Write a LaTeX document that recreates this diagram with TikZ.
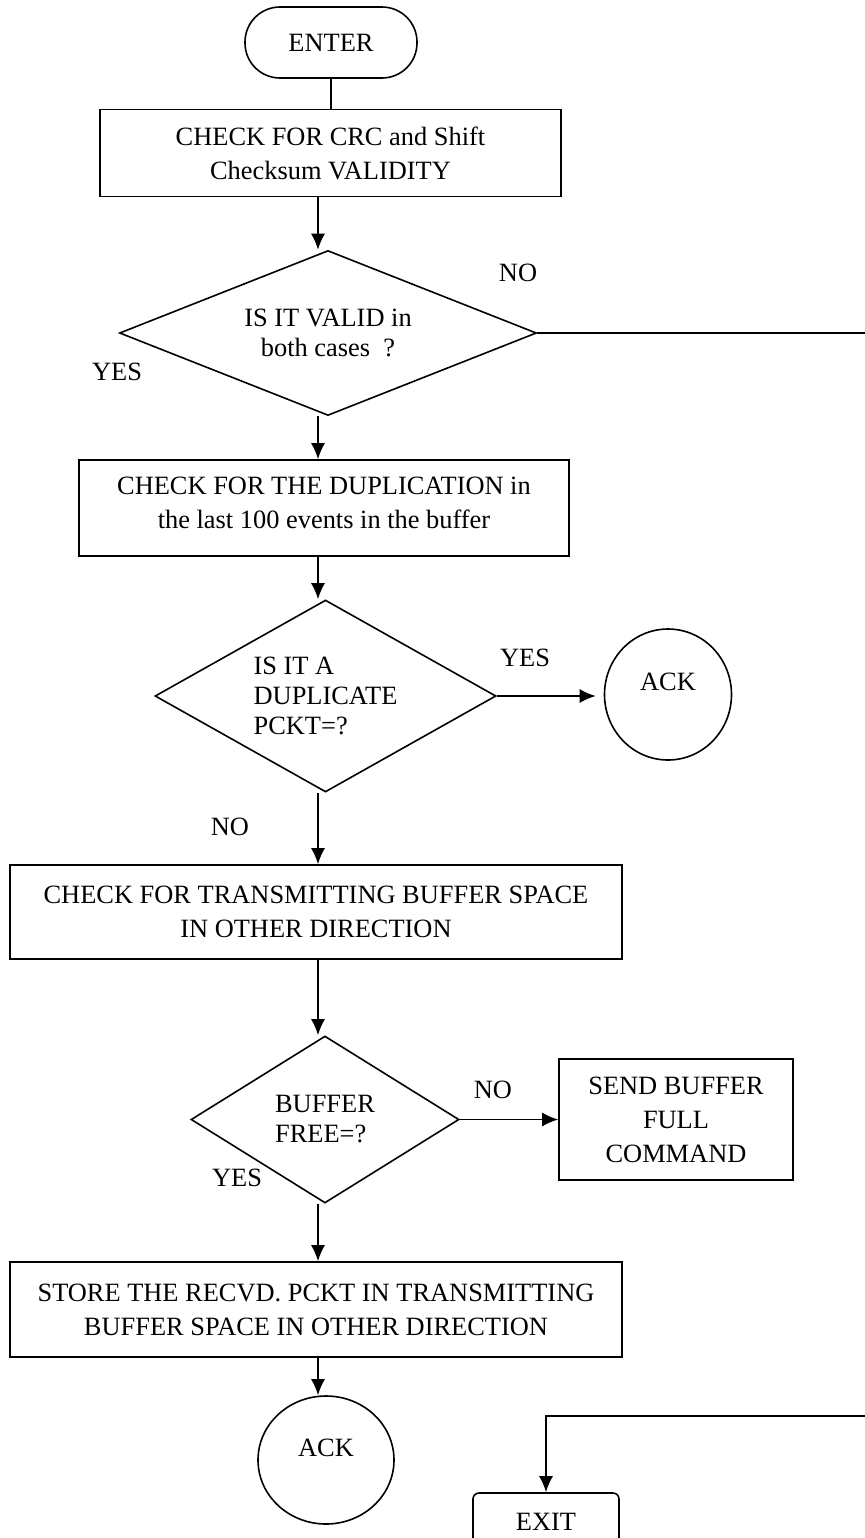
\documentclass[tikz,border=0pt]{standalone}
\usepackage{fontspec}
\setmainfont{Liberation Serif}
\usetikzlibrary{shapes.geometric, arrows.meta}

\begin{document}
\begin{tikzpicture}[> = {Latex[length = 8pt, width = 7pt]}, x = 0.5pt, y = -0.5pt, line width = 0.8pt,
	font = \fontsize{13.2}{17}\selectfont,
	term/.style = {draw, rounded corners = 17.5pt, minimum width = 86pt, minimum height = 35.5pt, inner sep = 0pt},
	proc/.style = {draw, align = center, inner sep = 0pt},
	dec/.style = {draw, diamond, inner sep = 0pt, font = \fontsize{13.2}{15}\selectfont},
	conn/.style = {draw, ellipse, inner sep = 0pt, text height = 9pt, text depth = 13pt},
	lbl/.style = {inner sep = 0pt}]

	% Definitions

	\def\X{318}		% x of the main line of arrows
	\def\E{900}		% x of the return line, off the page

	\useasboundingbox (0, 0) rectangle (864, 1538);
	\coordinate (spine) at (\X, 0);
	\coordinate (side) at (\E, 1416);

	% Boxes and decisions

	\node [term] (enter) at (331, 42.5) {ENTER};
	\node [proc, minimum width = 230.5pt, minimum height = 43.5pt] (chk) at (330.5, 153) {CHECK FOR CRC and Shift\\Checksum VALIDITY};
	\node [dec, align = center, aspect = 2.53, minimum width = 208.5pt, minimum height = 82.5pt] (valid) at (328, 333) {IS IT VALID in\\both cases\ \ ?};
	\node [proc, minimum width = 245pt, minimum height = 48pt, text depth = 5pt] (dup) at (324, 508) {CHECK FOR THE DUPLICATION in\\the last 100 events in the buffer};
	\node [dec, align = left, aspect = 1.78, minimum width = 170.5pt, minimum height = 96pt] (isdup) at (325.5, 696) {IS IT A\\DUPLICATE\\PCKT=?};
	\node [conn, minimum width = 63.5pt, minimum height = 65.5pt] (ack1) at (668, 694.5) {ACK};
	\node [proc, minimum width = 306pt, minimum height = 47pt] (space) at (316, 912) {CHECK FOR TRANSMITTING BUFFER SPACE\\IN OTHER DIRECTION};
	\node [dec, align = left, aspect = 1.6, minimum width = 134pt, minimum height = 83.5pt] (free) at (325, 1119.5) {BUFFER\\FREE=?};
	\node [proc, minimum width = 117pt, minimum height = 60.5pt] (full) at (676, 1119.5) {SEND BUFFER\\FULL\\COMMAND};
	\node [proc, minimum width = 306pt, minimum height = 47.5pt] (store) at (316, 1309.5) {STORE THE RECVD. PCKT IN TRANSMITTING\\BUFFER SPACE IN OTHER DIRECTION};
	\node [conn, minimum width = 68pt, minimum height = 64pt] (ack2) at (326, 1460) {ACK};
	\node [term, rounded corners = 3pt, minimum width = 73pt, minimum height = 29pt] (exit) at (546, 1522) {EXIT};

	% Branch labels

	\node [lbl] (no1) at (518, 273) {NO};
	\node [lbl] (yes1) at (117, 372) {YES};
	\node [lbl] (yes2) at (525, 658) {YES};
	\node [lbl] (no2) at (230, 827) {NO};
	\node [lbl] (no3) at (493, 1090) {NO};
	\node [lbl] (yes3) at (237, 1178) {YES};

	% Connectors

	\draw (enter.south) -- (enter.south |- chk.north);
	\draw [->] (chk.south -| spine) -- (valid.north -| spine);
	\draw [->] (valid.south -| spine) -- (dup.north -| spine);
	\draw [->] (dup.south -| spine) -- (isdup.north -| spine);
	\draw [->] (isdup.east) -- ([xshift = -4pt] isdup.east -| ack1.west);
	\draw [->] (isdup.south -| spine) -- (space.north -| spine);
	\draw [->] (space.south -| spine) -- (free.north -| spine);
	\draw [->] (free.east) -- (free.east -| full.west);
	\draw [->] (free.south -| spine) -- (store.north -| spine);
	\draw [->] (store.south -| spine) -- (ack2.north -| spine);

	% NO from the first test runs off the page and comes back to EXIT
	\draw [->] (valid.east) -| (side) -| (exit.north);

\end{tikzpicture}
\end{document}
